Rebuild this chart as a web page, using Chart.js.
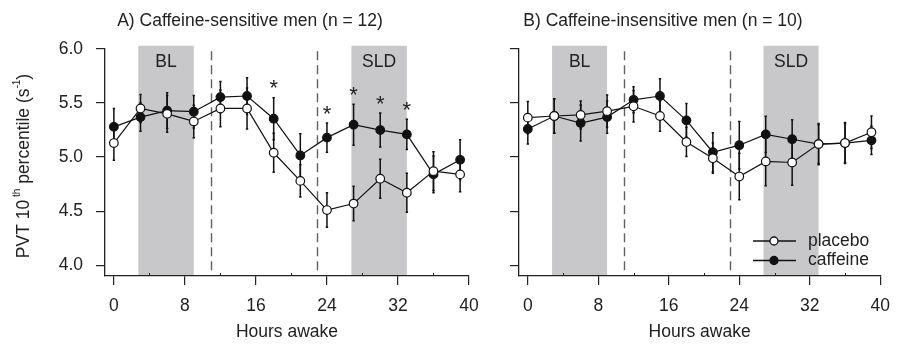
<!DOCTYPE html>
<html><head><meta charset="utf-8">
<script src="https://cdn.jsdelivr.net/npm/chart.js@4/dist/chart.umd.min.js"></script>
<style>
html,body{margin:0;padding:0;background:#fff;}
#wrap{position:relative;width:901px;height:344px;overflow:hidden;}
canvas{position:absolute;top:0;}
</style></head><body>
<div id="wrap">
<canvas id="cA" width="490" height="344" style="left:0"></canvas>
<canvas id="cB" width="411" height="344" style="left:490px"></canvas>
</div>
<script>
// ---- data ----
const hours = [0,3,6,9,12,15,18,21,24,27,30,33,36,39];
const placeboA      = [5.13,5.45,5.40,5.33,5.45,5.45,5.04,4.78,4.51,4.57,4.80,4.67,4.87,4.84];
const placeboA_err  = [0.16,0.13,0.17,0.15,0.17,0.19,0.18,0.15,0.16,0.16,0.18,0.18,0.18,0.16];
const caffeineA     = [5.28,5.37,5.43,5.42,5.555,5.565,5.355,5.015,5.18,5.30,5.25,5.21,4.84,4.975];
const caffeineA_err = [0.17,0.13,0.165,0.15,0.145,0.17,0.195,0.20,0.135,0.19,0.157,0.14,0.17,0.185];
const placeboB      = [5.365,5.38,5.39,5.425,5.47,5.38,5.14,4.99,4.82,4.96,4.95,5.12,5.13,5.23];
const placeboB_err  = [0.15,0.16,0.13,0.15,0.145,0.14,0.135,0.14,0.215,0.225,0.21,0.19,0.19,0.15];
const caffeineB     = [5.26,5.38,5.315,5.37,5.53,5.565,5.34,5.045,5.11,5.21,5.165,5.12,5.13,5.155];
const caffeineB_err = [0.14,0.16,0.167,0.15,0.12,0.16,0.155,0.18,0.22,0.167,0.18,0.18,0.18,0.13];
const sigHoursA = [18,24,27,30,33];
const sigHoursB = [];
const xTicks = [0,8,16,24,32,40];
const xMinorTicks = [4,12,20,28,36];
const yTicks = [4.0,4.5,5.0,5.5,6.0];
const shadedPeriods = [{label:'BL',from:2.75,to:9.0},{label:'SLD',from:26.75,to:33.0}];
const dashedHours = [10.9,22.9];
const seriesNames = ['placebo','caffeine'];
const titleA = 'A) Caffeine-sensitive men (n = 12)';
const titleB = 'B) Caffeine-insensitive men (n = 10)';
const xTitle = 'Hours awake';

// ---- styles ----
const FONT = '"Liberation Sans", Arial, Helvetica, sans-serif';
const INK = '#222222';
Chart.defaults.font.family = FONT;
Chart.defaults.color = INK;

const decor = {
  id: 'decor',
  beforeDraw(chart, args, o) {
    const {ctx, chartArea: ca, scales: {x, y}} = chart;
    ctx.save();
    const yt = y.getPixelForValue(6.03);
    ctx.fillStyle = '#c8c8ca';
    shadedPeriods.forEach(s => {
      const x0 = x.getPixelForValue(s.from), x1 = x.getPixelForValue(s.to);
      ctx.fillRect(x0, yt, x1 - x0, ca.bottom - yt);
    });
    ctx.fillStyle = INK;
    ctx.font = '17.5px ' + FONT;
    ctx.textAlign = 'center';
    ctx.textBaseline = 'middle';
    shadedPeriods.forEach(s => {
      ctx.fillText(s.label, (x.getPixelForValue(s.from) + x.getPixelForValue(s.to)) / 2, yt + 16);
    });
    ctx.strokeStyle = '#606060';
    ctx.lineWidth = 1.4;
    ctx.setLineDash([9, 5]);
    dashedHours.forEach(h => {
      const px = Math.round(x.getPixelForValue(h)) + 0.5;
      ctx.beginPath();
      ctx.moveTo(px, y.getPixelForValue(5.98));
      ctx.lineTo(px, ca.bottom);
      ctx.stroke();
    });
    ctx.restore();
  },
  beforeDatasetsDraw(chart, args, o) {
    const {ctx, scales: {x, y}} = chart;
    ctx.save();
    ctx.strokeStyle = '#111';
    ctx.lineWidth = 1.5;
    chart.data.datasets.forEach(ds => {
      ds.data.forEach((p, i) => {
        const e = ds.err[i];
        const px = x.getPixelForValue(p.x);
        const y0 = y.getPixelForValue(p.y - e), y1 = y.getPixelForValue(p.y + e);
        ctx.beginPath();
        ctx.moveTo(px, y0); ctx.lineTo(px, y1);
        ctx.moveTo(px - 1.2, y0); ctx.lineTo(px + 1.2, y0);
        ctx.moveTo(px - 1.2, y1); ctx.lineTo(px + 1.2, y1);
        ctx.stroke();
      });
    });
    // minor ticks (inside)
    ctx.strokeStyle = INK;
    ctx.lineWidth = 1;
    const b = chart.chartArea.bottom;
    xMinorTicks.forEach(h => {
      const px = Math.round(x.getPixelForValue(h)) + 0.5;
      ctx.beginPath(); ctx.moveTo(px, b); ctx.lineTo(px, b - 3); ctx.stroke();
    });
    ctx.restore();
  },
  afterDraw(chart, args, o) {
    const {ctx, scales: {x, y}} = chart;
    ctx.save();
    ctx.fillStyle = INK;
    // title
    ctx.font = '17.5px ' + FONT;
    ctx.textAlign = 'center';
    ctx.textBaseline = 'middle';
    ctx.fillText(o.title, o.titleX, 21);
    // asterisks
    const caf = chart.data.datasets[1];
    ctx.font = '22px ' + FONT;
    ctx.textBaseline = 'alphabetic';
    o.sig.forEach(h => {
      const i = caf.data.findIndex(p => p.x === h);
      const top = y.getPixelForValue(caf.data[i].y + caf.err[i]);
      ctx.fillText('*', x.getPixelForValue(h), top - 15 + 12.5);
    });
    // y-axis label
    if (o.yLabel) {
      const parts = [
        ['PVT 10', 17.5, 0], [' th', 10, -7], [' percentile (s', 17.5, 0], ['-1', 10, -7], [')', 17.5, 0]
      ];
      let w = 0;
      parts.forEach(p => { ctx.font = p[1] + 'px ' + FONT; w += ctx.measureText(p[0]).width; });
      ctx.translate(24, 166);
      ctx.rotate(-Math.PI / 2);
      ctx.textAlign = 'left';
      ctx.textBaseline = 'middle';
      let cx = -w / 2;
      parts.forEach(p => {
        ctx.font = p[1] + 'px ' + FONT;
        ctx.fillText(p[0], cx, p[2]);
        cx += ctx.measureText(p[0]).width;
      });
      ctx.setTransform(1, 0, 0, 1, 0, 0);
    }
    // legend
    if (o.legend) {
      const rows = [241, 260.5];
      chart.data.datasets.forEach((ds, k) => {
        const ly = rows[k];
        ctx.strokeStyle = '#111';
        ctx.lineWidth = 1.3;
        ctx.beginPath(); ctx.moveTo(o.legendX, ly); ctx.lineTo(o.legendX + 43, ly); ctx.stroke();
        ctx.beginPath(); ctx.arc(o.legendX + 21, ly, 4, 0, Math.PI * 2);
        ctx.fillStyle = ds.pointBackgroundColor; ctx.fill(); ctx.stroke();
        ctx.fillStyle = INK;
        ctx.font = '17.5px ' + FONT;
        ctx.textAlign = 'left';
        ctx.textBaseline = 'middle';
        ctx.fillText(ds.label, o.legendX + 55, ly);
      });
    }
    ctx.restore();
  }
};

function pts(vals) { return hours.map((h, i) => ({x: h, y: vals[i]})); }

function makeChart(id, plac, placErr, caf, cafErr, opt) {
  return new Chart(document.getElementById(id), {
    type: 'line',
    data: {
      datasets: [
        {label: seriesNames[0], data: pts(plac), err: placErr, borderColor: '#111', borderWidth: 1.2,
         pointRadius: 4.3, pointBorderWidth: 1.2, pointBackgroundColor: '#ffffff', pointBorderColor: '#111', tension: 0},
        {label: seriesNames[1], data: pts(caf), err: cafErr, borderColor: '#111', borderWidth: 1.2,
         pointRadius: 4.3, pointBorderWidth: 1.2, pointBackgroundColor: '#111111', pointBorderColor: '#111', tension: 0}
      ]
    },
    options: {
      responsive: false, animation: false, devicePixelRatio: 1,
      layout: {padding: {left: 0, right: opt.padRight, top: 49, bottom: 0}},
      plugins: {legend: {display: false}, tooltip: {enabled: false}, decor: opt.decor},
      scales: {
        x: {
          type: 'linear', min: -1, max: 40,
          afterBuildTicks: s => { s.ticks = xTicks.map(v => ({value: v})); },
          afterFit: s => { s.height = 68; },
          grid: {drawOnChartArea: false, drawTicks: true, tickLength: 9, color: INK, lineWidth: 1.2},
          border: {display: true, color: INK, width: 1.3},
          ticks: {font: {size: 17.5}, color: INK, padding: 11, maxRotation: 0, autoSkip: false},
          title: {display: true, text: xTitle, font: {size: 17.5}, color: INK, padding: {top: 0, bottom: 1}}
        },
        y: {
          type: 'linear', min: 3.9, max: 6.0,
          afterBuildTicks: s => { s.ticks = yTicks.map(v => ({value: v})); },
          afterFit: s => { s.width = opt.yWidth; },
          grid: {drawOnChartArea: false, drawTicks: true, tickLength: 9, color: INK, lineWidth: 1.2},
          border: {display: true, color: INK, width: 1.3},
          ticks: {display: opt.yLabels, font: {size: 17.5}, color: INK, padding: 13,
                  callback: v => Number(v).toFixed(1)}
        }
      }
    },
    plugins: [decor]
  });
}

makeChart('cA', placeboA, placeboA_err, caffeineA, caffeineA_err, {
  padRight: 21, yWidth: 105, yLabels: true,
  decor: {title: titleA, titleX: 250, sig: sigHoursA, yLabel: true, legend: false}
});
makeChart('cB', placeboB, placeboB_err, caffeineB, caffeineB_err, {
  padRight: 19, yWidth: 29, yLabels: false,
  decor: {title: titleB, titleX: 173, sig: sigHoursB, yLabel: false, legend: true, legendX: 263}
});
</script>
</body></html>
